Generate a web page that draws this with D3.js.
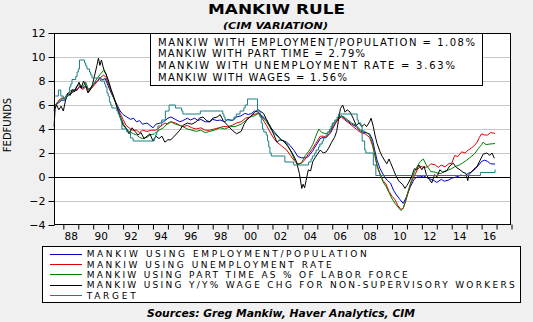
<!DOCTYPE html>
<html><head><meta charset="utf-8">
<script src="https://cdn.jsdelivr.net/npm/d3@7/dist/d3.min.js"></script>
<style>
html,body{margin:0;padding:0;background:#f0f0f0;}
svg{display:block;}
text{font-family:"DejaVu Sans","Liberation Sans",sans-serif;}
</style></head>
<body>
<svg id="c" width="533" height="322"></svg>
<script>
// ---------- DATA ----------
const title = "MANKIW RULE";
const subtitle = "(CIM VARIATION)";
const sourceText = "Sources:  Greg Mankiw, Haver Analytics, CIM";
const yLabel = "FEDFUNDS";
const yTicks = [-4, -2, 0, 2, 4, 6, 8, 10, 12];
const xLabelYears = [1988, 1990, 1992, 1994, 1996, 1998, 2000, 2002, 2004, 2006, 2008, 2010, 2012, 2014, 2016];
const xTickYears = d3.range(1988, 2019);
const annotationLines = [
  "MANKIW WITH EMPLOYMENT/POPULATION = 1.08%",
  "MANKIW WITH PART TIME = 2.79%",
  "MANKIW WITH UNEMPLOYMENT RATE = 3.63%",
  "MANKIW WITH WAGES = 1.56%"
];
const legendLabels = [
  "MANKIW USING EMPLOYMENT/POPULATION",
  "MANKIW USING UNEMPLOYMENT RATE",
  "MANKIW USING PART TIME AS % OF LABOR FORCE",
  "MANKIW USING Y/Y% WAGE CHG FOR NON-SUPERVISORY WORKERS",
  "TARGET"
];

const empPop = [[1987.38,5.5],[1987.5,6.0],[1987.7,6.2],[1987.9,6.4],[1988.1,6.4],[1988.3,6.8],[1988.5,6.9],[1988.7,7.3],[1988.9,7.2],[1989.1,7.6],[1989.3,7.4],[1989.5,7.6],[1989.7,7.3],[1989.9,7.5],[1990.1,7.8],[1990.3,8.0],[1990.45,8.3],[1990.6,8.1],[1990.8,8.2],[1991.0,7.6],[1991.2,7.0],[1991.4,6.5],[1991.6,6.0],[1991.8,5.5],[1992.0,5.2],[1992.25,5.0],[1992.5,4.8],[1992.7,4.9],[1992.9,4.6],[1993.1,4.7],[1993.3,4.4],[1993.6,4.5],[1993.8,4.3],[1994.0,4.1],[1994.2,4.4],[1994.5,4.5],[1994.7,4.6],[1995.0,4.9],[1995.2,5.0],[1995.5,4.8],[1995.8,4.6],[1996.0,4.7],[1996.3,4.9],[1996.5,4.75],[1996.8,4.9],[1997.0,4.7],[1997.2,4.8],[1997.5,4.6],[1997.8,4.6],[1998.0,4.8],[1998.3,4.7],[1998.5,4.75],[1998.8,4.6],[1999.0,4.8],[1999.3,4.7],[1999.6,5.0],[1999.9,5.1],[2000.15,5.3],[2000.4,5.2],[2000.6,5.3],[2000.8,5.5],[2001.05,5.4],[2001.3,5.1],[2001.6,4.75],[2001.9,4.1],[2002.1,3.8],[2002.3,3.5],[2002.6,3.1],[2002.95,2.9],[2003.2,2.6],[2003.45,2.2],[2003.7,1.7],[2003.95,1.6],[2004.2,1.6],[2004.4,1.7],[2004.7,2.2],[2004.9,2.6],[2005.2,3.2],[2005.4,3.3],[2005.6,3.3],[2005.9,3.7],[2006.1,4.2],[2006.4,4.9],[2006.6,5.1],[2006.8,4.9],[2007.0,4.7],[2007.3,4.4],[2007.6,4.2],[2007.9,3.8],[2008.2,3.7],[2008.5,3.6],[2008.7,3.1],[2008.85,2.2],[2009.0,1.4],[2009.2,0.7],[2009.5,0.0],[2009.7,-0.3],[2009.9,-0.5],[2010.1,-1.1],[2010.3,-1.5],[2010.55,-1.9],[2010.75,-2.2],[2010.95,-1.7],[2011.2,-0.9],[2011.45,-0.25],[2011.65,0.0],[2011.9,0.0],[2012.1,0.1],[2012.4,-0.1],[2012.6,-0.2],[2012.8,-0.3],[2013.0,-0.45],[2013.3,-0.2],[2013.5,-0.35],[2013.8,-0.25],[2014.0,-0.1],[2014.3,0.0],[2014.6,0.15],[2014.9,0.1],[2015.1,0.3],[2015.3,0.4],[2015.6,0.7],[2015.8,1.0],[2016.0,1.3],[2016.2,1.4],[2016.4,1.3],[2016.6,1.1],[2016.9,1.08]];

const unempRate = [[1987.38,5.8],[1987.5,6.0],[1987.7,6.4],[1987.9,6.6],[1988.1,6.5],[1988.3,6.8],[1988.5,7.0],[1988.7,7.1],[1988.9,7.3],[1989.1,7.5],[1989.3,7.3],[1989.5,7.5],[1989.7,7.1],[1989.9,7.4],[1990.1,7.7],[1990.3,8.0],[1990.5,8.3],[1990.7,8.5],[1990.85,8.3],[1991.0,7.8],[1991.2,7.1],[1991.4,6.5],[1991.6,5.9],[1991.8,5.3],[1992.0,4.8],[1992.2,4.3],[1992.4,4.1],[1992.6,3.9],[1992.9,3.9],[1993.1,3.7],[1993.3,3.9],[1993.6,3.8],[1993.9,3.9],[1994.2,3.9],[1994.5,4.2],[1994.8,4.5],[1995.0,4.4],[1995.2,4.6],[1995.5,4.5],[1995.8,4.3],[1996.0,4.2],[1996.3,4.3],[1996.6,4.1],[1996.9,4.0],[1997.2,4.1],[1997.5,3.9],[1997.8,3.9],[1998.1,4.0],[1998.4,4.1],[1998.7,4.2],[1999.0,4.2],[1999.3,4.3],[1999.6,4.5],[1999.9,4.6],[2000.2,4.9],[2000.5,5.0],[2000.7,5.2],[2001.05,5.3],[2001.3,4.9],[2001.6,4.3],[2001.9,3.6],[2002.1,3.2],[2002.3,2.9],[2002.6,2.6],[2002.95,2.25],[2003.2,1.8],[2003.5,1.3],[2003.7,1.1],[2003.95,1.15],[2004.2,1.5],[2004.4,1.9],[2004.7,2.4],[2004.9,2.8],[2005.2,3.4],[2005.4,3.4],[2005.6,3.3],[2005.9,3.8],[2006.1,4.3],[2006.4,4.8],[2006.6,5.0],[2006.8,4.8],[2007.0,4.6],[2007.3,4.3],[2007.6,4.0],[2007.9,3.7],[2008.2,3.6],[2008.5,3.3],[2008.7,2.6],[2008.85,1.8],[2009.0,0.9],[2009.2,0.2],[2009.4,-0.3],[2009.6,-0.6],[2009.8,-1.2],[2010.0,-1.6],[2010.2,-1.9],[2010.4,-2.4],[2010.6,-2.7],[2010.75,-2.6],[2010.9,-2.1],[2011.1,-1.2],[2011.3,-0.4],[2011.5,0.1],[2011.7,0.6],[2011.9,0.9],[2012.1,0.8],[2012.4,0.85],[2012.6,1.1],[2012.9,1.0],[2013.1,0.8],[2013.3,1.0],[2013.55,0.85],[2013.8,1.1],[2014.0,1.15],[2014.2,1.8],[2014.4,1.7],[2014.67,2.1],[2014.9,2.0],[2015.1,2.25],[2015.3,2.4],[2015.5,2.6],[2015.7,2.9],[2015.85,3.3],[2016.0,3.6],[2016.2,3.5],[2016.4,3.5],[2016.6,3.7],[2016.9,3.63]];

const partTime = [[1987.38,5.6],[1987.5,6.1],[1987.7,6.3],[1987.9,6.5],[1988.1,6.6],[1988.3,7.0],[1988.5,7.2],[1988.7,7.1],[1988.9,7.6],[1989.1,7.7],[1989.3,7.5],[1989.5,7.9],[1989.7,7.2],[1989.9,7.5],[1990.1,7.9],[1990.3,8.3],[1990.5,8.6],[1990.7,8.9],[1990.85,8.6],[1991.0,8.0],[1991.2,7.2],[1991.4,6.5],[1991.6,5.8],[1991.8,5.1],[1992.0,4.5],[1992.2,4.0],[1992.4,3.8],[1992.7,3.6],[1992.9,3.5],[1993.1,3.3],[1993.3,3.2],[1993.6,3.3],[1993.8,3.5],[1994.1,3.6],[1994.4,3.9],[1994.7,4.1],[1995.0,4.5],[1995.2,4.6],[1995.5,4.4],[1995.8,4.3],[1996.0,4.2],[1996.3,4.0],[1996.6,3.9],[1996.9,3.8],[1997.2,3.9],[1997.5,3.7],[1997.8,3.8],[1998.1,3.9],[1998.5,4.1],[1998.8,4.0],[1999.2,4.2],[1999.5,4.2],[1999.9,4.4],[2000.2,4.7],[2000.5,5.0],[2000.8,5.1],[2001.05,5.3],[2001.3,5.0],[2001.6,4.6],[2001.9,4.0],[2002.1,3.7],[2002.3,3.4],[2002.6,3.1],[2002.95,2.8],[2003.2,2.2],[2003.5,1.4],[2003.7,1.0],[2003.95,1.2],[2004.2,1.8],[2004.4,2.1],[2004.7,2.7],[2004.9,3.4],[2005.1,4.0],[2005.3,3.7],[2005.6,3.6],[2005.9,3.9],[2006.1,4.5],[2006.4,4.9],[2006.6,5.1],[2006.8,5.0],[2007.0,4.8],[2007.3,4.5],[2007.6,4.3],[2007.9,3.9],[2008.2,3.8],[2008.5,3.5],[2008.7,2.8],[2008.85,1.9],[2009.0,1.0],[2009.2,0.3],[2009.4,-0.4],[2009.6,-0.8],[2009.8,-1.3],[2010.0,-1.8],[2010.2,-2.2],[2010.4,-2.5],[2010.6,-2.8],[2010.75,-2.6],[2010.9,-2.0],[2011.1,-1.1],[2011.3,-0.3],[2011.5,0.4],[2011.7,0.9],[2011.9,1.3],[2012.1,1.5],[2012.3,1.0],[2012.6,0.45],[2012.9,0.4],[2013.1,0.3],[2013.3,0.3],[2013.55,0.5],[2013.8,0.6],[2014.0,0.7],[2014.2,0.85],[2014.5,1.0],[2014.7,1.15],[2015.0,1.4],[2015.3,1.7],[2015.5,1.9],[2015.8,2.4],[2016.0,2.7],[2016.1,2.9],[2016.3,2.7],[2016.56,2.75],[2016.9,2.79]];

const wages = [[1987.38,4.2],[1987.45,5.7],[1987.55,6.0],[1987.7,5.6],[1987.85,5.9],[1988.0,5.5],[1988.15,6.4],[1988.3,7.0],[1988.45,6.8],[1988.6,7.3],[1988.75,7.1],[1988.9,7.5],[1989.05,7.9],[1989.2,7.4],[1989.35,8.0],[1989.5,7.6],[1989.65,7.0],[1989.8,7.3],[1989.95,7.7],[1990.1,8.5],[1990.25,9.3],[1990.35,9.9],[1990.45,9.3],[1990.55,9.75],[1990.7,9.0],[1990.85,8.6],[1991.0,8.1],[1991.2,7.3],[1991.4,6.6],[1991.6,5.8],[1991.8,5.0],[1992.0,4.3],[1992.2,4.1],[1992.4,3.6],[1992.6,4.1],[1992.8,3.8],[1993.0,3.5],[1993.2,3.7],[1993.4,3.2],[1993.6,3.4],[1993.8,3.6],[1994.0,3.0],[1994.2,3.4],[1994.4,3.2],[1994.6,3.4],[1994.8,2.9],[1995.0,3.1],[1995.2,3.1],[1995.5,3.5],[1995.8,3.9],[1996.0,4.3],[1996.3,4.5],[1996.6,4.4],[1996.9,4.6],[1997.1,4.9],[1997.35,5.0],[1997.6,4.7],[1997.8,4.6],[1998.0,4.9],[1998.3,5.0],[1998.5,5.2],[1998.7,4.7],[1999.0,4.3],[1999.3,3.9],[1999.6,3.6],[1999.9,3.8],[2000.1,4.4],[2000.3,4.8],[2000.5,5.0],[2000.8,5.4],[2001.05,5.6],[2001.4,5.3],[2001.6,4.8],[2001.85,4.2],[2002.1,3.5],[2002.3,2.9],[2002.5,3.1],[2002.75,3.0],[2003.0,2.6],[2003.2,2.25],[2003.45,1.7],[2003.6,1.3],[2003.8,0.3],[2003.96,-0.95],[2004.05,-0.6],[2004.15,-0.9],[2004.25,-0.3],[2004.4,0.6],[2004.55,0.5],[2004.7,1.3],[2004.9,1.7],[2005.2,2.25],[2005.4,2.0],[2005.6,2.1],[2005.8,2.5],[2005.96,2.9],[2006.15,3.3],[2006.3,3.8],[2006.45,5.0],[2006.55,5.7],[2006.7,6.0],[2006.86,5.4],[2007.0,5.6],[2007.2,5.4],[2007.4,4.9],[2007.6,4.3],[2007.8,4.5],[2007.97,4.2],[2008.15,4.4],[2008.3,4.2],[2008.5,4.6],[2008.6,4.9],[2008.75,4.2],[2008.86,3.5],[2009.0,2.8],[2009.2,2.1],[2009.35,1.7],[2009.5,1.4],[2009.65,1.1],[2009.8,1.5],[2009.9,1.2],[2010.1,0.6],[2010.3,0.0],[2010.5,-0.4],[2010.7,-0.6],[2010.87,-0.95],[2011.0,-0.7],[2011.1,-0.5],[2011.3,0.0],[2011.5,0.7],[2011.65,0.6],[2011.8,1.0],[2012.0,0.6],[2012.15,0.9],[2012.3,0.2],[2012.5,-0.2],[2012.66,-0.5],[2012.85,0.2],[2013.0,0.0],[2013.2,0.6],[2013.4,0.4],[2013.66,0.5],[2013.85,0.9],[2014.1,1.15],[2014.3,0.8],[2014.55,0.6],[2014.75,0.4],[2014.95,0.3],[2015.07,-0.3],[2015.15,0.2],[2015.44,0.6],[2015.7,0.9],[2015.9,1.4],[2016.1,1.9],[2016.35,2.0],[2016.55,1.8],[2016.7,2.0],[2016.85,1.56]];

// Fed funds target: [year the level starts, level]
const target = [[1987.38,6.75],[1987.67,7.25],[1987.83,6.75],[1988.0,6.5],[1988.17,6.75],[1988.33,7.0],[1988.42,7.5],[1988.5,7.75],[1988.58,8.125],[1988.83,8.375],[1988.92,8.75],[1989.0,9.0],[1989.08,9.75],[1989.42,9.5],[1989.5,9.25],[1989.58,9.0],[1989.75,8.75],[1989.83,8.5],[1989.92,8.25],[1990.5,8.0],[1990.75,7.75],[1990.83,7.5],[1990.92,7.0],[1991.0,6.75],[1991.08,6.25],[1991.17,6.0],[1991.25,5.75],[1991.58,5.5],[1991.67,5.25],[1991.75,5.0],[1991.83,4.75],[1991.92,4.0],[1992.25,3.75],[1992.5,3.25],[1992.67,3.0],[1994.08,3.25],[1994.17,3.5],[1994.25,3.75],[1994.33,4.25],[1994.58,4.75],[1994.83,5.5],[1995.08,6.0],[1995.5,5.75],[1995.92,5.5],[1996.0,5.25],[1997.17,5.5],[1998.67,5.25],[1998.75,5.0],[1998.83,4.75],[1999.42,5.0],[1999.58,5.25],[1999.83,5.5],[2000.08,5.75],[2000.17,6.0],[2000.33,6.5],[2001.0,5.5],[2001.17,5.0],[2001.25,4.5],[2001.33,4.0],[2001.42,3.75],[2001.58,3.5],[2001.67,3.0],[2001.75,2.5],[2001.83,2.0],[2001.92,1.75],[2002.83,1.25],[2003.42,1.0],[2004.42,1.25],[2004.58,1.5],[2004.67,1.75],[2004.83,2.0],[2004.92,2.25],[2005.08,2.5],[2005.17,2.75],[2005.33,3.0],[2005.42,3.25],[2005.58,3.5],[2005.67,3.75],[2005.83,4.0],[2005.92,4.25],[2006.0,4.5],[2006.17,4.75],[2006.33,5.0],[2006.42,5.25],[2007.67,4.75],[2007.75,4.5],[2007.92,4.25],[2008.0,3.0],[2008.17,2.25],[2008.25,2.0],[2008.75,1.0],[2008.92,0.125],[2015.92,0.375],[2016.83,0.375],[2016.9,0.625]];

const seriesData = [empPop, unempRate, partTime, wages, target];
const seriesColors = ["#0000c8", "#e00000", "#008000", "#000000", "#1a8080"];

// ---------- LAYOUT ----------
const svg = d3.select("#c");
const plot = {left: 54, top: 33, right: 511, bottom: 225};
const x = d3.scaleLinear().domain([1987.375, 2018]).range([plot.left, plot.right + 0.5]);
const y = d3.scaleLinear().domain([-4, 12]).range([plot.bottom, plot.top]);

svg.append("rect").attr("width", 533).attr("height", 322).attr("fill", "#f0f0f0");
svg.append("rect").attr("x", plot.left).attr("y", plot.top)
  .attr("width", plot.right - plot.left).attr("height", plot.bottom - plot.top).attr("fill", "#fff");

// grid
svg.append("g").selectAll("line").data(yTicks.filter(v => v !== 0 && v !== -4 && v !== 12)).join("line")
  .attr("x1", plot.left).attr("x2", plot.right)
  .attr("y1", d => Math.round(y(d)) + 0.5).attr("y2", d => Math.round(y(d)) + 0.5)
  .attr("stroke", "#c8c8c8").attr("stroke-width", 1);
svg.append("line").attr("x1", plot.left).attr("x2", plot.right)
  .attr("y1", Math.round(y(0)) + 0.5).attr("y2", Math.round(y(0)) + 0.5)
  .attr("stroke", "#000").attr("stroke-width", 1);

// series
const line = d3.line().x(d => x(d[0])).y(d => y(d[1]));
const stepLine = d3.line().x(d => x(d[0])).y(d => y(d[1])).curve(d3.curveStepAfter);
seriesData.forEach((s, i) => {
  svg.append("path").datum(s)
    .attr("d", i === 4 ? stepLine : line)
    .attr("fill", "none").attr("stroke", seriesColors[i]).attr("stroke-width", 1)
    .attr("stroke-linejoin", "round");
});

// frame
svg.append("rect").attr("x", plot.left + 0.5).attr("y", plot.top + 0.5)
  .attr("width", plot.right - plot.left - 1).attr("height", plot.bottom - plot.top - 1)
  .attr("fill", "none").attr("stroke", "#000");

// y axis
const yAxis = d3.axisLeft(y).tickValues(yTicks).tickSize(6).tickPadding(3).tickFormat(d3.format("d"));
const gy = svg.append("g").attr("transform", `translate(${plot.left + 0.5},0)`).call(yAxis);
gy.select(".domain").remove();
gy.selectAll("line").attr("stroke", "#000");
gy.selectAll("text").attr("font-size", 11).attr("fill", "#000").attr("font-family", "DejaVu Sans");

// x axis ticks
const xAxis = d3.axisBottom(x).tickValues(xTickYears).tickSize(5).tickFormat("");
const gx = svg.append("g").attr("transform", `translate(0,${plot.bottom - 0.5})`).call(xAxis);
gx.select(".domain").remove();
gx.selectAll("line").attr("stroke", "#000");
// x labels centred in the year
const xLab = d3.axisBottom(x).tickValues(xLabelYears.map(v => v + 0.5)).tickSize(0).tickPadding(8)
  .tickFormat(d => String(Math.floor(d) % 100).padStart(2, "0"));
const gxl = svg.append("g").attr("transform", `translate(0,${plot.bottom})`).call(xLab);
gxl.select(".domain").remove();
gxl.selectAll("text").attr("font-size", 10.5).attr("fill", "#000").attr("font-family", "DejaVu Sans");

// y label
svg.append("text").attr("transform", "translate(11,125) rotate(-90)")
  .attr("text-anchor", "middle").attr("font-size", 10).text(yLabel);

// annotation box
svg.append("rect").attr("x", 150.5).attr("y", 33.5).attr("width", 332).attr("height", 52)
  .attr("fill", "#fff").attr("stroke", "#000");
const annoWidths = [317, 207, 297, 189];
annotationLines.forEach((t, i) => {
  svg.append("text").attr("x", 158).attr("y", 45.6 + i * 11.8).attr("font-size", 10)
    .attr("textLength", annoWidths[i]).attr("lengthAdjust", "spacing").text(t);
});

// legend
svg.append("rect").attr("x", 42.5).attr("y", 246.5).attr("width", 478).attr("height", 56)
  .attr("fill", "#fff").attr("stroke", "#000");
const legWidths = [280, 245, 321, 428, 49];
legendLabels.forEach((t, i) => {
  const cy = 253.8 + i * 10.3;
  svg.append("line").attr("x1", 50).attr("x2", 82).attr("y1", Math.round(cy) + 0.5).attr("y2", Math.round(cy) + 0.5)
    .attr("stroke", seriesColors[i]).attr("stroke-width", 1);
  svg.append("text").attr("x", 86.7).attr("y", cy + 3.5).attr("font-size", 9)
    .attr("textLength", legWidths[i]).attr("lengthAdjust", "spacing").text(t);
});

// titles
svg.append("text").attr("x", 276.5).attr("y", 13.5).attr("text-anchor", "middle")
  .attr("font-size", 14).attr("font-weight", "bold")
  .attr("textLength", 137).attr("lengthAdjust", "spacingAndGlyphs").text(title);
svg.append("text").attr("x", 275.5).attr("y", 28.5).attr("text-anchor", "middle")
  .attr("font-size", 9.5).attr("font-weight", "bold").attr("font-style", "italic")
  .attr("textLength", 105).attr("lengthAdjust", "spacingAndGlyphs").text(subtitle);
svg.append("text").attr("x", 281).attr("y", 316.8).attr("text-anchor", "middle")
  .attr("font-size", 10).attr("font-weight", "bold").attr("font-style", "italic")
  .attr("textLength", 268).attr("lengthAdjust", "spacingAndGlyphs").text(sourceText);
</script>
</body></html>
